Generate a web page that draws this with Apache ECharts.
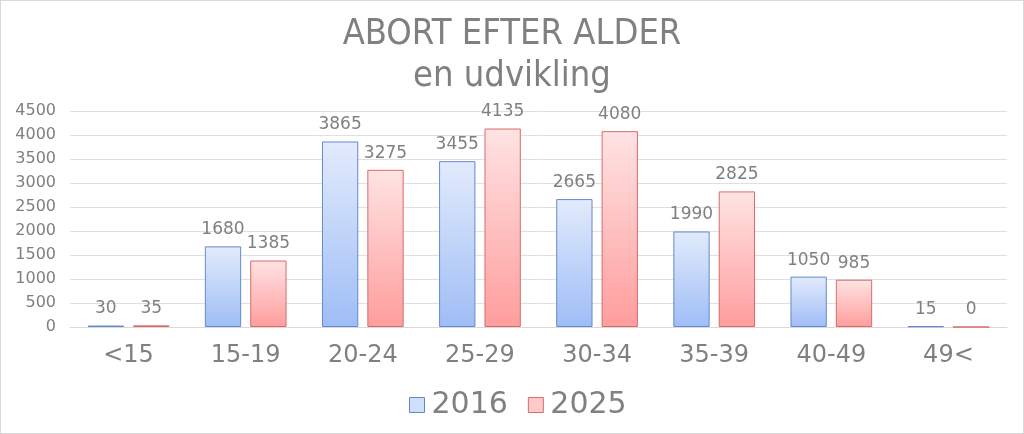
<!DOCTYPE html>
<html>
<head>
<meta charset="utf-8">
<script src="https://cdn.jsdelivr.net/npm/echarts@6/dist/echarts.min.js"></script>
<style>
  html, body { margin: 0; padding: 0; background: #fff; }
  #main { width: 1022px; height: 432px; border: 1px solid #d9d9d9; }
</style>
</head>
<body>
<div id="main"></div>
<script>
var categories = ['<15', '15-19', '20-24', '25-29', '30-34', '35-39', '40-49', '49<']
var values2016 = [30, 1680, 3865, 3455, 2665, 1990, 1050, 15]
var values2025 = [35, 1385, 3275, 4135, 4080, 2825, 985, 0]
var yTicks = { min: 0, max: 4500, interval: 500 }

var grey = '#808080'

var blueFill = new echarts.graphic.LinearGradient(0, 0, 0, 1, [
  { offset: 0, color: '#e2ebfc' },
  { offset: 1, color: '#9fbdf6' }
])
var redFill = new echarts.graphic.LinearGradient(0, 0, 0, 1, [
  { offset: 0, color: '#ffe3e3' },
  { offset: 1, color: '#ff9d9d' }
])

var myChart = echarts.init(document.getElementById('main'))

var titleFont = { color: grey, fontSize: 36, fontWeight: 'normal', fontFamily: 'DejaVu Sans Condensed' }
var valueLabel = { show: true, position: 'top', distance: 8, color: grey, fontSize: 17, fontFamily: 'DejaVu Sans' }

var option = {
  animation: false,
  backgroundColor: '#fff',
  title: [
    { text: 'ABORT EFTER ALDER', left: 'center', top: 11, textStyle: titleFont },
    { text: 'en udvikling', left: 'center', top: 53, textStyle: titleFont }
  ],
  legend: {
    bottom: 8,
    left: 403,
    icon: 'rect',
    itemWidth: 15,
    itemHeight: 15,
    itemGap: 20,
    textStyle: { color: grey, fontSize: 30, fontFamily: 'DejaVu Sans', padding: [0, 0, 0, 2] },
    data: [
      { name: '2016', itemStyle: { color: '#cfdffb', borderColor: '#6389cc', borderWidth: 1 } },
      { name: '2025', itemStyle: { color: '#ffcaca', borderColor: '#d86a6a', borderWidth: 1 } }
    ]
  },
  grid: { left: 69, right: 16, top: 110, bottom: 106 },
  xAxis: {
    type: 'category',
    data: categories,
    axisLine: { lineStyle: { color: '#d9d9d9' } },
    axisTick: { show: false },
    axisLabel: { color: grey, fontSize: 24, margin: 17, fontFamily: 'DejaVu Sans' }
  },
  yAxis: {
    type: 'value',
    min: yTicks.min,
    max: yTicks.max,
    interval: yTicks.interval,
    axisLine: { show: false },
    axisTick: { show: false },
    splitLine: { lineStyle: { color: '#e0e0e0', width: 1 } },
    axisLabel: {
      color: grey, fontSize: 16, margin: 14, fontFamily: 'DejaVu Sans',
      formatter: function (v) { return String(v) }
    }
  },
  series: [
    {
      name: '2016',
      type: 'bar',
      data: values2016,
      barWidth: '31%',
      barGap: '25%',
      itemStyle: { color: blueFill, borderColor: '#6389cc', borderWidth: 1 },
      label: valueLabel
    },
    {
      name: '2025',
      type: 'bar',
      data: values2025,
      barWidth: '31%',
      itemStyle: { color: redFill, borderColor: '#d86a6a', borderWidth: 1 },
      label: valueLabel
    }
  ]
}

myChart.setOption(option)
</script>
</body>
</html>
